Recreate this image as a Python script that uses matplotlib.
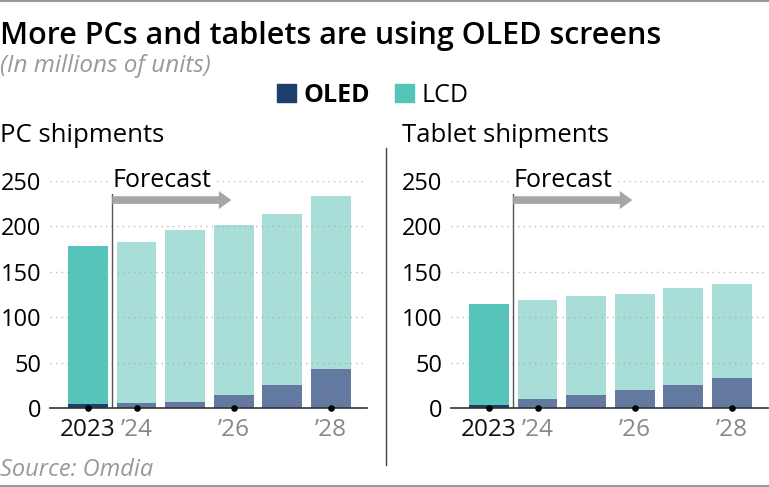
import matplotlib.pyplot as plt
from matplotlib.lines import Line2D
from matplotlib.patches import Patch
import numpy as np

years = ['2023', '2024', '2025', '2026', '2027', '2028']
tick_labels = ['2023', "\u201924", '', "\u201926", '', "\u201928"]
pc_total = [178, 183, 196, 202, 214, 233]
pc_oled = [4, 5.5, 7, 14.5, 25, 43]
tab_total = [114, 119, 123, 125, 132, 137]
tab_oled = [3.7, 10, 14.5, 20, 25.5, 33]

plt.rcParams['font.family'] = ['Open Sans', 'DejaVu Sans']

c_oled = '#1c3f6e'
c_lcd = '#55c4b9'
c_oled_f = '#64799f'
c_lcd_f = '#a9ddd8'

fig = plt.figure(figsize=(7.69, 4.87), dpi=100)

# thin rules top and bottom
fig.add_artist(Line2D([0, 1], [0.998, 0.998], color='#999999', lw=1.5))
fig.add_artist(Line2D([0, 1], [0.003, 0.003], color='#999999', lw=1.5))

fig.text(0.0, 1 - 44 / 487, 'More PCs and tablets are using OLED screens',
         fontsize=22, fontweight='semibold', va='baseline', ha='left')
fig.text(0.0, 1 - 72 / 487, '(In millions of units)', fontsize=17.5,
         style='italic', color='#999999', va='baseline', ha='left')
fig.text(0.0, 1 - 476 / 487, 'Source: Omdia', fontsize=17,
         style='italic', color='#999999', va='baseline', ha='left')

handles = [Patch(color=c_oled, label='OLED'), Patch(color=c_lcd, label='LCD')]
leg = fig.legend(handles=handles, loc='center', bbox_to_anchor=(0.485, 1 - 95 / 487),
                 ncol=2, frameon=False, fontsize=18, handlelength=0.75, handleheight=0.75,
                 handletextpad=0.3, columnspacing=1.0)
leg.get_texts()[0].set_fontweight('bold')

# divider between panels
fig.add_artist(Line2D([386 / 769, 386 / 769], [1 - 148 / 487, 1 - 465 / 487],
                      color='#444444', lw=1))

panels = [
    ('PC shipments', pc_total, pc_oled, 50, 0.0),
    ('Tablet shipments', tab_total, tab_oled, 451, 402 / 769),
]

x = np.arange(len(years))
for title, total, oled, left_px, title_x in panels:
    ax = fig.add_axes([left_px / 769, 1 - 408 / 487, 317 / 769, 227 / 487])
    total = np.array(total)
    oled = np.array(oled)
    lcd = total - oled
    oled_cols = [c_oled] + [c_oled_f] * 5
    lcd_cols = [c_lcd] + [c_lcd_f] * 5
    ax.bar(x, oled, width=0.82, color=oled_cols, zorder=2)
    ax.bar(x, lcd, bottom=oled, width=0.82, color=lcd_cols, zorder=2)

    ax.set_xlim(-0.78, 5.74)
    ax.set_ylim(0, 250)
    ax.set_yticks([0, 50, 100, 150, 200, 250])
    ax.tick_params(axis='y', length=0, labelsize=17, pad=6)
    ax.tick_params(axis='x', length=0, labelsize=17.5, pad=7)
    ax.set_xticks(x)
    ax.set_xticklabels(tick_labels)
    for i, t in enumerate(ax.get_xticklabels()):
        t.set_color('#111111' if i == 0 else '#888888')
    for s in ['top', 'right', 'left']:
        ax.spines[s].set_visible(False)
    ax.spines['bottom'].set_color('#333333')
    ax.spines['bottom'].set_linewidth(1.2)
    ax.spines['bottom'].set_zorder(4)
    for gy in [50, 100, 150, 200, 250]:
        ax.axhline(gy, color='#aaaaaa', lw=1, ls=(0, (1, 3)), alpha=0.8, zorder=3)

    # dots on labelled ticks
    dot_idx = [0, 1, 3, 5]
    ax.scatter(x[dot_idx], np.zeros(len(dot_idx)), s=14, color='black', zorder=5, clip_on=False)

    # forecast marker
    ax.plot([0.5, 0.5], [0, 244], color='#555555', lw=1, zorder=4)
    ax.annotate('', xy=(2.95, 229), xytext=(0.5, 229),
                arrowprops=dict(arrowstyle='simple,head_length=0.9,head_width=1.3,tail_width=0.55',
                                color='#a6a6a6', lw=0, shrinkA=0, shrinkB=0), zorder=4)
    ax.text(0.5, 251, 'Forecast', fontsize=18, ha='left', va='center', zorder=6,
            bbox=dict(facecolor='white', edgecolor='none', pad=1))

    fig.text(title_x, 1 - 135 / 487, title, fontsize=18.5, ha='left', va='center')

fig.savefig('out.png', dpi=100)
